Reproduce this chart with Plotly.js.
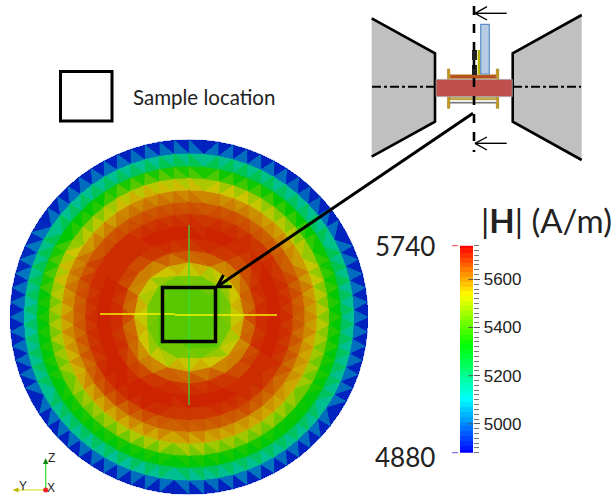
<!DOCTYPE html>
<html><head><meta charset="utf-8">
<script src="https://cdn.plot.ly/plotly-3.0.1.min.js"></script>
<style>html,body{margin:0;padding:0;background:#fff}#c{width:615px;height:498px}
.js-fill{shape-rendering:crispEdges}</style>
</head><body><div id="c"></div>
<script>
// |H| range and colour bar
const fieldMin = 4880, fieldMax = 5740;
const colorbarTicks = [5000, 5200, 5400, 5600];
const colorbarLevels = [4880,4900,4920,4940,4960,4980,5000,5020,5040,5060,5080,5100,5120,5140,5160,5180,5200,5220,5240,5260,5280,5300,5320,5340,5360,5380,5400,5420,5440,5460,5480,5500,5520,5540,5560,5580,5600,5620,5640,5660,5680,5700,5720,5740];
// mesh rings: radius (fraction of the disc radius) and nodes per ring
const ringRadius = [1, .921, .848, .781, .713, .646, .579, .511, .444, .376, .309, .242, .174];
const ringNodes  = [76, 70, 64, 58, 52, 46, 40, 34, 28, 22, 16, 12, 8];
const centreValue = 5415;
// |H| read per ring (rows) and per direction (columns, from east going counter-clockwise in 16 steps)
const ringValues = [
 [4800,4805,4800,4795,4800,4805,4800,4805,4800,4795,4800,4805,4800,4800,4805,4795],
 [5095,5100,5085,5105,5095,5090,5100,5105,5090,5095,5100,5085,5095,5105,5090,5095],
 [5280,5290,5285,5295,5300,5290,5280,5295,5270,5275,5270,5280,5275,5270,5275,5280],
 [5410,5430,5420,5440,5460,5480,5410,5460,5400,5390,5390,5390,5400,5390,5380,5390],
 [5555,5565,5560,5580,5590,5595,5560,5590,5550,5535,5545,5550,5545,5535,5540,5545],
 [5635,5645,5640,5650,5655,5660,5650,5660,5635,5630,5645,5635,5635,5635,5625,5625],
 [5695,5700,5695,5700,5700,5700,5710,5710,5695,5700,5715,5705,5695,5700,5705,5695],
 [5730,5735,5725,5730,5725,5730,5735,5735,5730,5735,5740,5740,5725,5735,5735,5730],
 [5735,5730,5710,5730,5735,5730,5710,5730,5735,5730,5715,5730,5735,5730,5710,5730],
 [5715,5690,5650,5690,5715,5690,5650,5690,5715,5690,5655,5690,5715,5690,5650,5690],
 [5630,5590,5540,5590,5625,5590,5540,5590,5630,5590,5540,5590,5625,5590,5540,5590],
 [5500,5470,5430,5470,5495,5470,5430,5470,5500,5470,5430,5470,5495,5470,5430,5470],
 [5415,5415,5415,5415,5415,5415,5415,5415,5415,5415,5415,5415,5415,5415,5415,5415]
];
// axis triad labels and text
const triadLabels = ['Z','Y','X'];
const legendText = 'Sample location';

const bins = 70;
const discStops = [[0,[0,20,190]],[.26,[0,190,190]],[.52,[0,200,0]],[.76,[205,200,0]],[1,[205,30,0]]];
function discColor(t){
  t=Math.max(0,Math.min(1,t));
  for(let i=1;i<discStops.length;i++){
    if(t<=discStops[i][0]){
      const [a,ca]=discStops[i-1],[b,cb]=discStops[i],f=(t-a)/(b-a);
      return 'rgb('+ca.map((c,k)=>Math.round(c+(cb[k]-c)*f)).join(',')+')';
    }
  }
  return 'rgb(205,30,0)';
}
// nodes
const nodes = ringRadius.map((r,i)=>{
  const n=ringNodes[i], arr=[];
  for(let k=0;k<n;k++){
    const th=2*Math.PI*(k+(i%2?0.5:0))/n;
    const sec=Math.round(th/(2*Math.PI)*16)%16;
    arr.push({x:r*Math.cos(th),y:r*Math.sin(th),th:th,v:ringValues[i][sec]});
  }
  return arr;
});
const tris=[];
for(let i=0;i<nodes.length-1;i++){
  const A=nodes[i],B=nodes[i+1];
  let a=0,b=0;
  while(a<A.length||b<B.length){
    const na=A[a%A.length],nb=B[b%B.length];
    const tha=a<A.length?(a+1+(i%2?0.5:0))/A.length:9, thb=b<B.length?(b+1+((i+1)%2?0.5:0))/B.length:9;
    if(tha<=thb){ tris.push([na,A[(a+1)%A.length],nb]); a++; }
    else { tris.push([na,B[(b+1)%B.length],nb]); b++; }
  }
}
const last=nodes[nodes.length-1], c={x:0,y:0,v:centreValue};
last.forEach((n,k)=>tris.push([n,last[(k+1)%last.length],c]));
const grp=Array.from({length:bins},()=>({x:[],y:[]}));
tris.forEach(t=>{
  const v=(t[0].v+t[1].v+t[2].v)/3;
  const f=Math.max(0,Math.min(.9999,(v-fieldMin)/(fieldMax-fieldMin)));
  const g=grp[Math.floor(f*bins)];
  t.concat([t[0]]).forEach(n=>{g.x.push(n.x);g.y.push(n.y);});
  g.x.push(null);g.y.push(null);
});
const traces=[];
grp.forEach((g,i)=>{
  if(!g.x.length)return;
  const col=discColor((i+.5)/bins);
  traces.push({type:'scatter',mode:'lines',x:g.x,y:g.y,xaxis:'x3',yaxis:'y3',fill:'toself',fillcolor:col,
    line:{color:col,width:.4,simplify:false},hoverinfo:'skip',showlegend:false});
});
// colour bar
traces.push({type:'heatmap',x:[0],y:colorbarLevels,z:colorbarLevels.map(v=>[v]),xaxis:'x2',yaxis:'y2',zmin:fieldMin,zmax:fieldMax,
  showscale:false,hoverinfo:'skip',
  colorscale:[[0,'#0000ff'],[.26,'#00ffff'],[.52,'#00ff00'],[.76,'#ffff00'],[1,'#ff0000']]});
// anchor trace for the pixel axes
traces.push({type:'scatter',mode:'markers',x:[0],y:[0],xaxis:'x',yaxis:'y',marker:{opacity:0},hoverinfo:'skip',showlegend:false});

const shapes=[];
const L=(x0,y0,x1,y1,color,width,dash)=>shapes.push({type:'line',xref:'x',yref:'y',x0,y0,x1,y1,line:{color,width,dash:dash||'solid'}});
const R=(x0,y0,x1,y1,fill,color,width)=>shapes.push({type:'rect',xref:'x',yref:'y',x0,y0,x1,y1,fillcolor:fill,line:{color:color||fill,width:width||0}});
const P=(path,fill,color,width)=>shapes.push({type:'path',xref:'x',yref:'y',path,fillcolor:fill,line:{color:color||'rgba(0,0,0,0)',width:width||0}});
// probe lines in the disc
L(189,225,189,405,'#33e233',1.2);
L(100,314,175,314,'#f4f000',1.4);
L(175,315,277,315,'#f4f000',1.4);
// sample squares
R(162.5,287.5,215.5,341.5,'rgba(0,0,0,0)','#000',3.5);
R(60.5,71.5,112,121,'rgba(0,0,0,0)','#000',3);
// colour bar end marks and inner major ticks
L(452,245.7,458,245.7,'#ff4040',1);
L(452,452.7,458,452.7,'#5a5aff',1);
colorbarTicks.forEach(v=>shapes.push({type:'line',xref:'x',yref:'y2',x0:468.5,x1:473.3,y0:v,y1:v,line:{color:'#555',width:1}}));
// schematic: yoke
P('M371.7,18.3 L435,53.3 L435,121.7 L371.7,156.7 Z','#c0c0c0');
P('M581.7,15 L512.7,53.3 L512.7,121.7 L581.7,160 Z','#c0c0c0');
P('M371.7,18.3 L435,53.3 L435,121.7 L371.7,156.7','rgba(0,0,0,0)','#000',2.6);
P('M581.7,15 L512.7,53.3 L512.7,121.7 L581.7,160','rgba(0,0,0,0)','#000',2.6);
// centre line
L(372,86.7,435,86.7,'#000',2,'dashdot');
L(513,86.7,581,86.7,'#000',2,'dashdot');
// flanges and coil
R(447.5,69,449.8,79.3,'#c89a10','#8a6a10',.5);
R(496.3,69,498.7,79.3,'#c89a10','#8a6a10',.5);
R(447.5,96.7,449.8,108.3,'#c89a10','#8a6a10',.5);
R(496.3,96.7,498.7,108.3,'#c89a10','#8a6a10',.5);
R(450,74.7,496.3,78.8,'#b5501e','#c4a040',.7);
R(450,97.3,496.3,100,'#c8b050','#8a7a30',.5);
R(450,100,496.3,102,'#f0eee8');
R(450,102,496.3,103.4,'#777');
// sample block
R(436,79.3,512.3,96.7,'#c0504d','#9fc8cc',.6);
// sensor
R(480.7,24.3,489.3,74,'#b8cce4','#5b8fc9',1.2);
R(477.7,50,480,74,'#b3b300');
R(472,50,477,60,'#222');
R(472,65,477,75,'#222');
// section line and arrows
L(474,6,474,152,'#000',2.6,'dash');
L(475,13.3,506.7,13.3,'#000',1.4);L(475,13.3,487,6.7,'#000',1.4);L(475,13.3,487,20,'#000',1.4);
L(475,143.3,506.7,143.3,'#000',1.4);L(475,143.3,487,137,'#000',1.4);L(475,143.3,487,150,'#000',1.4);
// leader arrow
L(473,113.3,217,286.7,'#000',3);
L(217,286.7,231.7,286.7,'#000',3);L(217,286.7,223.5,275,'#000',3);
// triad
L(45.7,490,45.7,461,'#44e044',1.3);
L(45.7,490,16,490,'#e8e040',1.3);
P('M45.7,458 L43,464 L48.4,464 Z','#118811');
P('M12.7,490 L18.5,487.5 L18.5,492.5 Z','#b8b800');
shapes.push({type:'circle',xref:'x',yref:'y',x0:43.2,y0:487.5,x1:48.2,y1:492.5,fillcolor:'#ee2020',line:{width:0}});

const anns=[];
const T=(x,y,text,size,family,color,xanchor)=>anns.push({xref:'x',yref:'y',x,y,text,showarrow:false,xanchor:xanchor||'left',yanchor:'middle',
  font:{size,family,color:color||'#222'}});
T(131,97,legendText,20.5,'Lato');
T(373,246,'5740',26,'Lato');
T(373,456.5,'4880',26,'Lato');
T(479,220,'|<b>H</b>| (A/m)',33,'Lato');
T(46,458,triadLabels[0],12,'Liberation Sans');
T(17,486,triadLabels[1],12,'Liberation Sans');
T(45,488,triadLabels[2],12,'Liberation Sans');

const off={visible:false,fixedrange:true};
const layout={width:615,height:498,margin:{l:0,r:0,t:0,b:0},paper_bgcolor:'#fff',plot_bgcolor:'rgba(0,0,0,0)',showlegend:false,
  xaxis:Object.assign({},off,{domain:[0,1],range:[0,615]}),
  yaxis:Object.assign({},off,{domain:[0,1],range:[498,0]}),
  xaxis3:Object.assign({},off,{domain:[10/615,368/615],range:[-1,1],anchor:'y3'}),
  yaxis3:Object.assign({},off,{domain:[1-494.5/498,1-139.5/498],range:[-1,1],anchor:'x3'}),
  xaxis2:Object.assign({},off,{domain:[460/615,473.3/615],anchor:'y2',range:[-.5,.5]}),
  yaxis2:{domain:[1-452.7/498,1-245.7/498],anchor:'x2',side:'right',range:[fieldMin,fieldMax],fixedrange:true,showgrid:false,zeroline:false,showline:false,
    tickmode:'array',tickvals:colorbarTicks,ticks:'outside',ticklen:6,tickwidth:1,tickcolor:'#555',
    tickfont:{size:17,family:'Liberation Sans',color:'#222'},
    minor:{tickmode:'linear',tick0:4880,dtick:20,ticks:'outside',ticklen:5,tickwidth:1,tickcolor:'#777',showgrid:false}},
  shapes,annotations:anns};
Plotly.newPlot('c',traces,layout,{staticPlot:true,displayModeBar:false});
</script></body></html>
